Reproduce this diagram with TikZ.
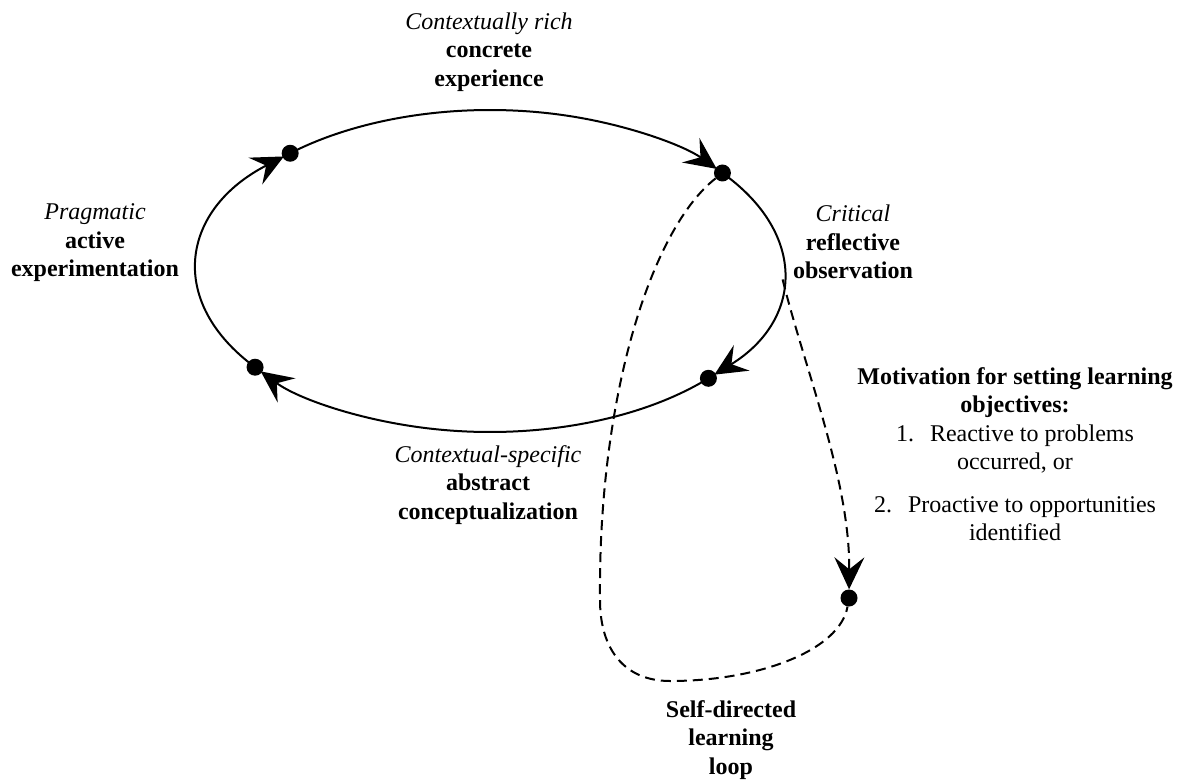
\documentclass[tikz,border=0pt]{standalone}
\usepackage{fontspec}
\setmainfont{Liberation Serif}
\usetikzlibrary{arrows.meta,calc}
\begin{document}
\begin{tikzpicture}[x=1pt,y=-1pt,
  lbl/.style={inner sep=0pt, align=center, font=\fontsize{24}{28.5}\selectfont},
  dotn/.style={circle, fill=black, inner sep=0pt, minimum size=17pt},
  ell/.style={line width=2pt},
  tipa/.style={-{Stealth[length=32pt,width=30pt,inset=12pt]}},
  dsh/.style={line width=2pt, dash pattern=on 10pt off 6pt}]
\useasboundingbox (0,0) rectangle (1189,782);
\coordinate (C) at (490,271);
\coordinate (e) at ($(C)+(-3:293pt and 161pt)$);
% arcs of the cycle
\draw[ell,tipa,shorten >=7pt] ($(C)+(133:293pt and 161pt)$) arc[start angle=133,end angle=37.5,x radius=293pt,y radius=161pt];
\draw[ell,tipa,shorten >=7pt] ($(C)+(37.5:293pt and 161pt)$) arc[start angle=37.5,end angle=-41.8,x radius=293pt,y radius=161pt];
\draw[ell,tipa,shorten >=7pt] ($(C)+(-41.8:293pt and 161pt)$) arc[start angle=-41.8,end angle=-143.3,x radius=293pt,y radius=161pt];
\draw[ell,tipa,shorten >=7pt] ($(C)+(-143.3:293pt and 161pt)$) arc[start angle=-143.3,end angle=-227,x radius=293pt,y radius=161pt];
% dots
\node[dotn] (d1) at ($(C)+(133:293pt and 161pt)$) {};
\node[dotn] (d2) at ($(C)+(37.5:293pt and 161pt)$) {};
\node[dotn] (d3) at ($(C)+(-41.8:293pt and 161pt)$) {};
\node[dotn] (d4) at ($(C)+(-143.3:293pt and 161pt)$) {};
\node[dotn] (d5) at (849,598) {};
% dashed loop
\draw[dsh] (d2) .. controls (650,230) and (598,400) .. (600,600)
  .. controls (600,650) and (625,681) .. (670,681)
  .. controls (760,681) and (840,650) .. (d5);
\draw[dsh,tipa] (e) .. controls (805,370) and (850,480) .. (d5);
% labels
\node[lbl] (top) at (489,52) {\textit{Contextually rich}\\\textbf{concrete}\\\textbf{experience}};
\node[lbl] (left) at (95,243) {\textit{Pragmatic}\\\textbf{active}\\\textbf{experimentation}};
\node[lbl] (right) at (853,242) {\textit{Critical}\\\textbf{reflective}\\\textbf{observation}};
\node[lbl] (bot) at (488,485) {\textit{Contextual-specific}\\\textbf{abstract}\\\textbf{conceptualization}};
\node[lbl] (self) at (731,740) {\textbf{Self-directed}\\\textbf{learning}\\\textbf{loop}};
\node[lbl,anchor=north] (mot) at (1015,367) {\textbf{Motivation for setting learning}\\\textbf{objectives:}\\1.\hspace{16pt}Reactive to problems\\occurred, or\\[14pt]2.\hspace{16pt}Proactive to opportunities\\identified};
\end{tikzpicture}
\end{document}
